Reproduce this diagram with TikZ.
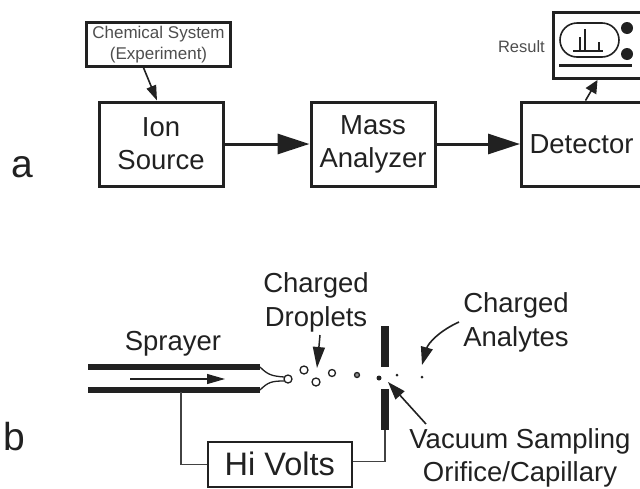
\documentclass[tikz,border=0pt]{standalone}
\usepackage{xcolor}
\usepackage{fontspec}
\setmainfont{Liberation Sans}
\usetikzlibrary{positioning, arrows.meta}
\definecolor{inkgray}{gray}{0.13}
\tikzset{>={Triangle[length=10pt,width=8pt]},
         blockbox/.style={draw=inkgray, line width=3pt, minimum width=124pt, minimum height=84pt, align=center, font=\fontsize{27.5}{33}\selectfont, text=inkgray},
         flowline/.style={->, draw=inkgray, line width=3pt, >={Triangle[length=32pt,width=20pt]}},
         thinline/.style={draw=inkgray!85, line width=1.5pt},
         tagarrow/.style={->, draw=inkgray, line width=1.6pt, >={Triangle[length=15pt,width=10pt]}},
         label/.style={align=center, text=inkgray, font=\fontsize{27.5}{34}\selectfont, inner sep=0pt},
         droplet/.style={circle, draw=inkgray, line width=1.3pt, inner sep=0pt},
         analyte/.style={circle, fill=inkgray, inner sep=0pt},
         tube/.style={draw=inkgray, line width=6pt},
         }

\begin{document}
\begin{tikzpicture}[x=1pt, y=-1pt]
    \useasboundingbox (0,0) rectangle (640,488);
    % panel a
    \node[label] (a) at (22,167) {\fontsize{39}{39}\selectfont a};
    \node[draw=inkgray, line width=2.4pt, minimum width=144pt, minimum height=44pt, align=center, inner sep=0pt, text=inkgray!80, font=\fontsize{17}{21}\selectfont] (chem) at (158.5,44.5) {Chemical System\\(Experiment)};
    \node[blockbox] (ion) at (161,144) {Ion\\Source};
    \node[blockbox] (mass) at (373,144) {Mass\\Analyzer};
    \node[blockbox, minimum width=130pt, anchor=west] (det) at (520,144) {\hspace*{-10pt}Detector};

    \draw[tagarrow] (chem.south) ++(-15,0) coordinate (chemout) (chemout) -- ([xshift=-4pt]ion.north);
    \draw[flowline] (ion) -- (mass);
    \draw[flowline] (mass) -- (det);

    % monitor
    \node[draw=inkgray, line width=3pt, minimum width=90pt, minimum height=66pt, anchor=north west] (screen) at (552,11) {};
    \node[label, text=inkgray!80, font=\fontsize{16.5}{20}\selectfont, left=7pt of screen.west, yshift=-1pt] (result) {Result};
    \draw[inkgray, line width=1.6pt, rounded corners=17pt] (560,23) rectangle (619,57);
    \draw[inkgray, line width=1.6pt] (573,51) -- (603,51) (580,51) -- (580,37) (585,51) -- (585,29) (599,51) -- (599,42);
    \draw[inkgray, line width=3pt] (559,65) -- (632,65);
    \node[analyte, minimum size=12pt] (dot1) at (627,28) {};
    \node[analyte, minimum size=12pt] (dot2) at (627,54) {};
    \draw[tagarrow, >={Triangle[length=13pt,width=12pt]}] ([xshift=-1pt]det.north) -- ([xshift=-1pt]screen.south);

    % panel b
    \node[label] (b) at (14,437) {\fontsize{39}{39}\selectfont b};
    \node[label] (sprayer) at (173,344) {Sprayer};
    \coordinate (t1a) at (88,367);
    \coordinate (t1b) at (260,367);
    \coordinate (t2a) at (88,390);
    \coordinate (t2b) at (260,390);
    \draw[tube] (t1a) -- (t1b);
    \draw[tube] (t2a) -- (t2b);
    \draw[inkgray, line width=1.3pt] (t1b) .. controls (268,375) and (272,376) .. (284,377);
    \draw[inkgray, line width=1.3pt] (t2b) .. controls (268,382) and (272,381) .. (284,381);
    \coordinate (flow1) at (130,379);
    \coordinate (flow2) at (225,379);
    \draw[tagarrow, line width=1.1pt, >={Triangle[length=18pt,width=10pt]}] (flow1) -- (flow2);

    \node[droplet, minimum size=8pt] (d1) at (288,379) {};
    \node[droplet, minimum size=8pt] (d2) at (304,370) {};
    \node[droplet, minimum size=8pt] (d3) at (316,382) {};
    \node[droplet, minimum size=7pt] (d4) at (332,373) {};
    \node[droplet, fill=inkgray!50, minimum size=5pt] (d5) at (357,375) {};
    \node[analyte, minimum size=5pt] (d6) at (379,378) {};
    \node[analyte, minimum size=3pt] (d7) at (397,375) {};
    \node[analyte, minimum size=3pt] (d8) at (422,377) {};

    \node[label] (droplets) at (316,302) {Charged\\Droplets};
    \node[label] (analytes) at (516,322) {Charged\\Analytes};
    \node[label, font=\fontsize{27.5}{33}\selectfont] (vacuum) at (520,458) {Vacuum Sampling\\Orifice/Capillary};

    \coordinate (s1a) at (385,326);
    \coordinate (s1b) at (385,367);
    \coordinate (s2a) at (385,389);
    \coordinate (s2b) at (385,430);
    \draw[inkgray, line width=8pt] (s1a) -- (s1b);
    \draw[inkgray, line width=8pt] (s2a) -- (s2b);

    \node[draw=inkgray, line width=1.6pt, minimum width=144pt, minimum height=45pt, text=inkgray, font=\fontsize{32.5}{36}\selectfont, inner sep=0pt, anchor=north west] (volts) at (207,441) {Hi Volts};
    \draw[thinline] (181,392) |- (volts.west);
    \draw[thinline] ([yshift=3pt]volts.east) -| (s2b);

    \coordinate (dropfrom) at (320,335);
    \draw[tagarrow, line width=1.5pt, >={Triangle[length=21pt,width=12pt]}] (dropfrom) -- (317,368);
    \coordinate (anfrom) at (459,322);
    \draw[tagarrow, line width=1.6pt, >={Triangle[length=18pt,width=12pt]}] (anfrom) to[bend right=25] (422,365);
    \coordinate (vacfrom) at (426,424);
    \draw[tagarrow, line width=1.6pt, >={Triangle[length=18pt,width=12pt]}] (vacfrom) -- (388,382);
\end{tikzpicture}
\end{document}
